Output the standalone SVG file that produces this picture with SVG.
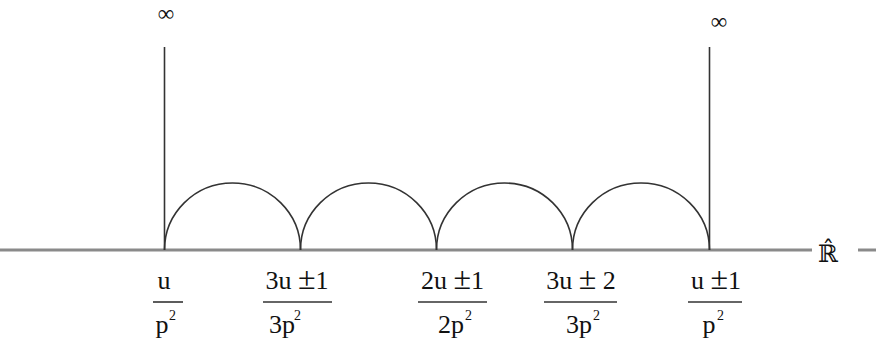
<svg xmlns="http://www.w3.org/2000/svg" width="876" height="345" viewBox="0 0 876 345">
<style>
.axis{stroke:#8a8a8a;stroke-width:3;fill:none}
.ln{stroke:#333;stroke-width:1.6;fill:none}
.t{font-family:"Liberation Serif",serif;font-size:26px;fill:#111;text-anchor:middle}
.pm{font-size:32px}
.s{font-family:"Liberation Serif",serif;font-size:14px;fill:#111}
.inf{font-family:"Liberation Serif",serif;font-size:23px;fill:#111;text-anchor:middle}
.bar{stroke:#333;stroke-width:1.6}
</style>
<rect width="876" height="345" fill="#fff"/>
<g id="connectors">
<line class="axis" x1="0" y1="250" x2="812" y2="250"/>
<line class="axis" x1="858" y1="250" x2="876" y2="250"/>
<line class="ln" x1="164.5" y1="47" x2="164.5" y2="250"/>
<line class="ln" x1="709.5" y1="47" x2="709.5" y2="250"/>
<path class="ln" d="M164.5,250 A68,67 0 0 1 300.5,250"/>
<path class="ln" d="M300.5,250 A68,67 0 0 1 436.5,250"/>
<path class="ln" d="M436.5,250 A68,67 0 0 1 572.5,250"/>
<path class="ln" d="M572.5,250 A68.5,67 0 0 1 709.5,250"/>
</g>
<g id="inf1"><text class="inf" x="166" y="21">∞</text></g>
<g id="inf2"><text class="inf" x="719" y="29">∞</text></g>
<g id="rhat">
<text x="828" y="262" font-family="DejaVu Serif,serif" font-size="24" text-anchor="middle" fill="#111">ℝ̂</text>
</g>
<g id="l1">
<text class="t" x="164" y="289">u</text>
<line class="bar" x1="153" y1="302" x2="183" y2="302"/>
<text class="t" x="162" y="333">p</text><text class="s" x="169" y="320">2</text>
</g>
<g id="l2">
<text class="t" x="297" y="289">3u <tspan class="pm">±</tspan>1</text>
<line class="bar" x1="263" y1="302" x2="332" y2="302"/>
<text class="t" x="282" y="333">3p</text><text class="s" x="294" y="320">2</text>
</g>
<g id="l3">
<text class="t" x="452.5" y="289">2u <tspan class="pm">±</tspan>1</text>
<line class="bar" x1="418" y1="302" x2="487" y2="302"/>
<text class="t" x="451" y="333">2p</text><text class="s" x="465" y="320">2</text>
</g>
<g id="l4">
<text class="t" x="581" y="289">3u <tspan class="pm">±</tspan> 2</text>
<line class="bar" x1="544" y1="302" x2="617" y2="302"/>
<text class="t" x="579" y="333">3p</text><text class="s" x="593" y="320">2</text>
</g>
<g id="l5">
<text class="t" x="709" y="333">p</text><text class="s" x="717" y="320">2</text>
<text class="t" x="716" y="289">u <tspan class="pm">±</tspan>1</text>
<line class="bar" x1="688" y1="302" x2="742" y2="302"/>
</g>
</svg>
